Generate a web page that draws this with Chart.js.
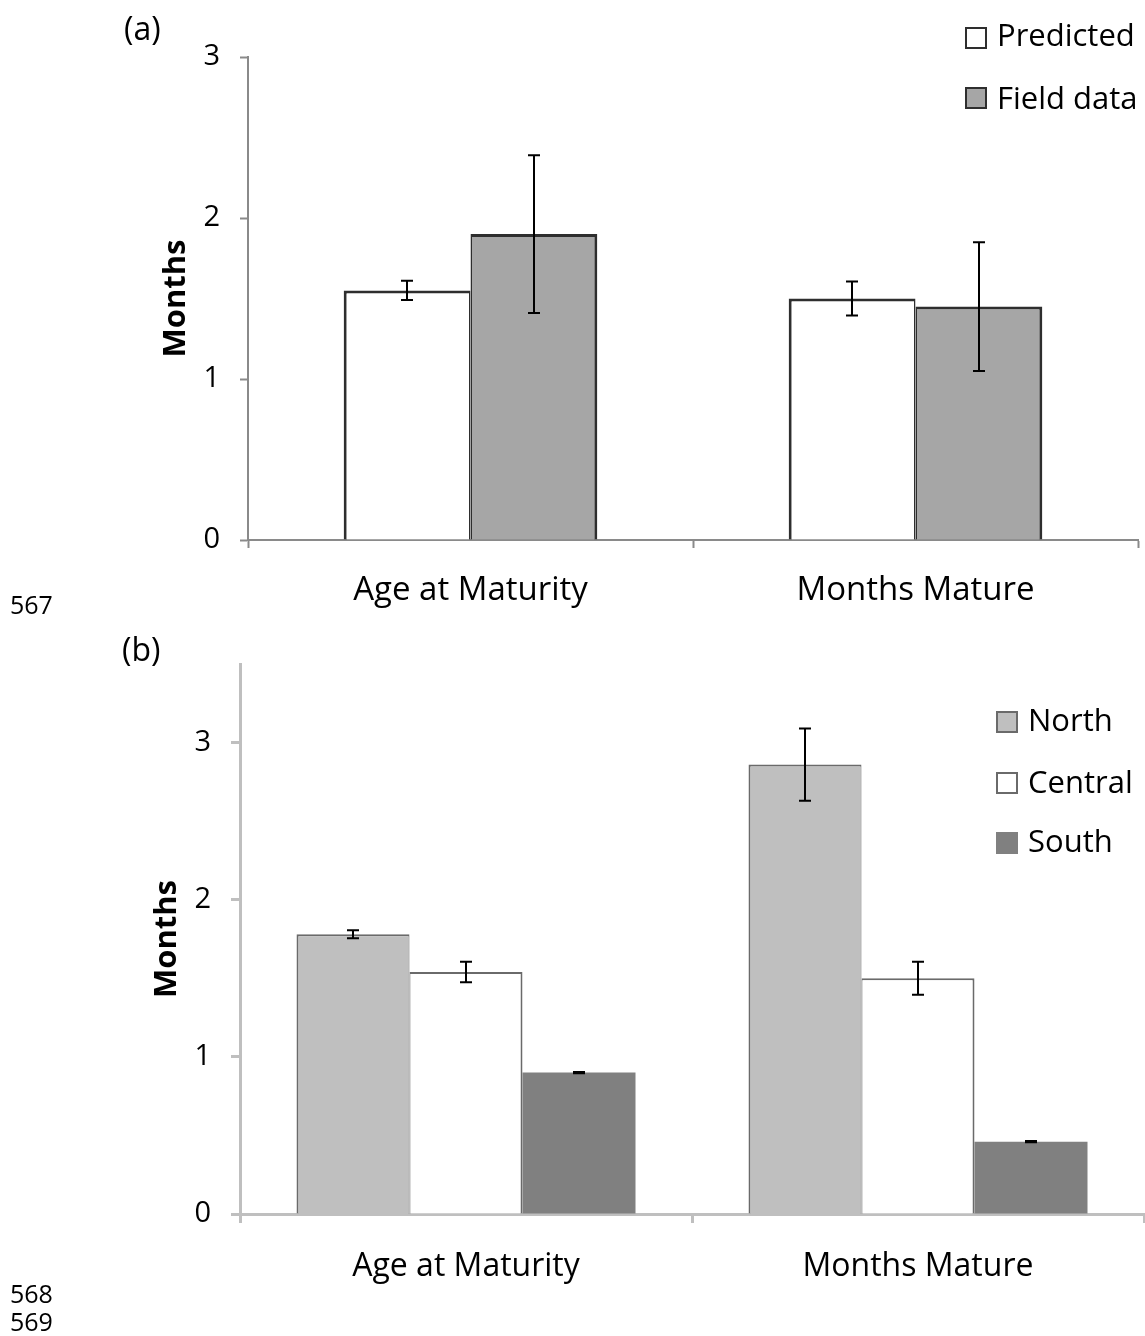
<!DOCTYPE html>
<html><head><meta charset="utf-8">
<script src="https://cdn.jsdelivr.net/npm/chart.js@4/dist/chart.umd.min.js"></script>
<style>
html,body{margin:0;padding:0;background:#fff;}
body{width:1145px;height:1336px;position:relative;overflow:hidden;font-family:'Open Sans',sans-serif;color:#000;}
canvas{position:absolute;left:0;display:block;}
.lbl{position:absolute;line-height:1;white-space:nowrap;}
.box{position:absolute;width:22px;height:22px;box-sizing:border-box;}
.txt{position:absolute;line-height:1;white-space:nowrap;font-size:31px;}
</style></head><body>
<canvas id="ca" width="1145" height="620" style="top:0"></canvas>
<canvas id="cb" width="1145" height="680" style="top:620px"></canvas>
<div class="lbl" style="left:124px;top:12px;font-size:32px">(a)</div>
<div class="lbl" style="left:122px;top:633px;font-size:32px">(b)</div>
<div class="lbl" style="left:10px;top:592px;font-size:25px">567</div>
<div class="lbl" style="left:10px;top:1281px;font-size:25px">568</div>
<div class="lbl" style="left:10px;top:1309px;font-size:25px">569</div>
<div id="lega"></div><div id="legb"></div>
<script>
// ---- data ----
const categories = ['Age at Maturity', 'Months Mature'];
const yTitle = 'Months';

// panel (a)
const seriesA = ['Predicted', 'Field data'];
const predicted = [1.55, 1.50];
const predictedErr = [0.06, 0.105];
const fieldData = [1.90, 1.45];
const fieldDataErr = [0.49, 0.40];
const yMaxA = 3;

// panel (b)
const seriesB = ['North', 'Central', 'South'];
const north = [1.78, 2.86];
const northErr = [0.025, 0.23];
const central = [1.54, 1.50];
const centralErr = [0.065, 0.105];
const south = [0.90, 0.46];
const southErr = [0.004, 0.004];
const yMaxB = 3.5;

// ---- styles ----
Chart.defaults.font.family = "'Open Sans', sans-serif";
Chart.defaults.color = '#000';

const errorBars = {
  id: 'errorBars',
  afterDatasetsDraw(chart) {
    const ctx = chart.ctx, y = chart.scales.y;
    chart.data.datasets.forEach((ds, i) => {
      if (!ds.errors) return;
      const meta = chart.getDatasetMeta(i);
      meta.data.forEach((bar, j) => {
        const v = ds.data[j], e = ds.errors[j];
        const yt = y.getPixelForValue(v + e), yb = y.getPixelForValue(v - e);
        const x = Math.round(bar.x);
        ctx.save();
        ctx.strokeStyle = '#000';
        ctx.lineWidth = 2;
        ctx.beginPath();
        ctx.moveTo(x, yt); ctx.lineTo(x, yb);
        ctx.moveTo(x - 6, yt); ctx.lineTo(x + 6, yt);
        ctx.moveTo(x - 6, yb); ctx.lineTo(x + 6, yb);
        ctx.stroke();
        ctx.restore();
      });
    });
  }
};

function makeChart(id, datasets, o) {
  return new Chart(document.getElementById(id), {
    type: 'bar',
    data: { labels: categories, datasets },
    plugins: [errorBars],
    options: {
      responsive: false,
      animation: false,
      devicePixelRatio: 1,
      layout: { padding: { top: o.padTop, right: o.padRight, left: 0, bottom: 0 } },
      plugins: { legend: { display: false }, tooltip: { enabled: false } },
      datasets: { bar: { categoryPercentage: o.catPct, barPercentage: 1, borderSkipped: false } },
      scales: {
        x: {
          afterFit: s => { s.height = o.xHeight; },
          border: { color: o.axisColor, width: o.axisWidth },
          grid: { drawOnChartArea: false, drawTicks: true, tickLength: o.tickLen, tickColor: o.axisColor, tickWidth: o.axisWidth },
          ticks: { font: { size: o.xFont }, padding: o.xPad, color: '#000', maxRotation: 0 }
        },
        y: {
          min: 0, max: o.yMax,
          afterFit: s => { s.width = o.yWidth; },
          border: { color: o.axisColor, width: o.axisWidth },
          grid: { drawOnChartArea: false, drawTicks: true, tickLength: o.tickLen, tickColor: o.axisColor, tickWidth: o.axisWidth },
          ticks: { stepSize: 1, includeBounds: false, font: { size: 29 }, padding: o.yPad, color: '#000' },
          title: { display: true, text: yTitle, font: { size: 31, weight: 'bold' }, color: '#000', padding: { top: o.titlePad, bottom: 0 } }
        }
      }
    }
  });
}

const darkEdge = '#2e2e2e', grayEdge = '#6a6a6a';
makeChart('ca', [
  { label: seriesA[0], data: predicted, errors: predictedErr, backgroundColor: '#ffffff', borderColor: darkEdge,
    borderWidth: { left: 3, top: 3, right: 1.5, bottom: 0 } },
  { label: seriesA[1], data: fieldData, errors: fieldDataErr, backgroundColor: '#a6a6a6', borderColor: darkEdge,
    borderWidth: { left: 1.5, top: 3, right: 3, bottom: 0 } }
], { padTop: 57, padRight: 7, catPct: 0.57, xHeight: 80, yWidth: 248, yMax: yMaxA,
     axisColor: '#8a8a8a', axisWidth: 2, tickLen: 8, xFont: 33, xPad: 23, yPad: 20, titlePad: 158 });

makeChart('cb', [
  { label: seriesB[0], data: north, errors: northErr, backgroundColor: '#bfbfbf', borderColor: grayEdge,
    borderWidth: { left: 2, top: 2, right: 1, bottom: 0 } },
  { label: seriesB[1], data: central, errors: centralErr, backgroundColor: '#ffffff', borderColor: grayEdge,
    borderWidth: { left: 1, top: 2, right: 2, bottom: 0 } },
  { label: seriesB[2], data: south, errors: southErr, backgroundColor: '#808080', borderColor: '#808080',
    borderWidth: 0 }
], { padTop: 44, padRight: 1, catPct: 0.75, xHeight: 86, yWidth: 240, yMax: yMaxB,
     axisColor: '#bfbfbf', axisWidth: 3, tickLen: 9, xFont: 32, xPad: 25, yPad: 20, titlePad: 149 });

// ---- legends (HTML, built from series names) ----
function legend(el, names, rows) {
  const host = document.getElementById(el);
  names.forEach((n, i) => {
    const r = rows[i];
    const b = document.createElement('div');
    b.className = 'box';
    b.style.left = r.bx + 'px'; b.style.top = r.by + 'px';
    b.style.background = r.fill;
    b.style.border = r.edge ? ('2px solid ' + r.edge) : 'none';
    host.appendChild(b);
    const t = document.createElement('div');
    t.className = 'txt';
    t.style.left = r.tx + 'px'; t.style.top = r.ty + 'px';
    t.textContent = n;
    host.appendChild(t);
  });
}
legend('lega', seriesA, [
  { bx: 965, by: 27, tx: 997, ty: 19, fill: '#ffffff', edge: darkEdge },
  { bx: 965, by: 87, tx: 997, ty: 82, fill: '#a6a6a6', edge: darkEdge }
]);
legend('legb', seriesB, [
  { bx: 996, by: 711, tx: 1028, ty: 704, fill: '#bfbfbf', edge: grayEdge },
  { bx: 996, by: 772, tx: 1028, ty: 766, fill: '#ffffff', edge: grayEdge },
  { bx: 996, by: 832, tx: 1028, ty: 825, fill: '#808080', edge: null }
]);
</script>
</body></html>
